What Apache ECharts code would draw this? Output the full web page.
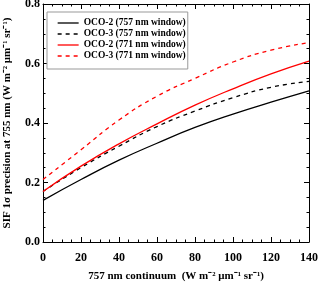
<!DOCTYPE html>
<html><head><meta charset="utf-8">
<script src="https://cdn.jsdelivr.net/npm/echarts@6/dist/echarts.min.js"></script>
<style>html,body{margin:0;padding:0;background:#fff}#c{width:320px;height:284px}</style>
</head><body><div id="c"></div>
<script>
var xs = [0, 20, 40, 60, 80, 100, 120, 140];
var oco2_757 = [0.14, 0.21, 0.275, 0.332, 0.385, 0.43, 0.47, 0.508];
var oco3_757 = [0.17, 0.25, 0.322, 0.388, 0.44, 0.485, 0.52, 0.54];
var oco2_771 = [0.17, 0.255, 0.33, 0.397, 0.46, 0.515, 0.565, 0.608];
var oco3_771 = [0.21, 0.31, 0.41, 0.49, 0.55, 0.605, 0.645, 0.67];
var names = ['OCO-2 (757 nm window)', 'OCO-3 (757 nm window)', 'OCO-2 (771 nm window)', 'OCO-3 (771 nm window)'];

var F = 'Liberation Serif';
function pts(v){ return xs.map(function(x,i){return [x, v[i]];}); }
function ser(name, v, color, type){
  return {name:name, type:'line', data:pts(v), smooth:true, symbol:'none',
    lineStyle:{color:color, width:1.3, type:type}, itemStyle:{color:color}};
}
var axisCommon = {
  axisLine:{show:true, onZero:false, lineStyle:{color:'#000', width:1}},
  axisTick:{show:true, inside:true, length:5, lineStyle:{color:'#000'}},
  minorTick:{show:true, splitNumber:4, length:2.5, lineStyle:{color:'#000'}},
  splitLine:{show:false}
};
var chart = echarts.init(document.getElementById('c'));
chart.setOption({
  animation:false,
  backgroundColor:'#fff',
  grid:{left:43, right:11, top:4, bottom:42, containLabel:false, outerBoundsMode:'none'},
  legend:{
    show:true, left:47, top:12, orient:'vertical', itemGap:1,
    itemWidth:21, itemHeight:9, width:132,
    backgroundColor:'#fff', borderColor:'#999', borderWidth:1, padding:[6,2,8,10],
    itemStyle:{color:'rgba(0,0,0,0)', borderWidth:0, opacity:0},
    lineStyle:{width:1.3},
    textStyle:{fontFamily:F, fontWeight:'bold', fontSize:9.5, color:'#000', padding:[0,0,0,0]},
    data:names
  },
  xAxis:[Object.assign({type:'value', min:0, max:140, interval:20,
    name:'757 nm continuum  (W m\u207B\u00B2 \u03BCm\u207B\u00B9 sr\u207B\u00B9)',
    nameLocation:'middle', nameGap:29,
    nameTextStyle:{fontFamily:F, fontWeight:'bold', fontSize:11, color:'#000'},
    axisLabel:{fontFamily:F, fontWeight:'bold', fontSize:12, color:'#000', margin:10}
  }, axisCommon),
  Object.assign({type:'value', min:0, max:140, interval:20, position:'top', axisLabel:{show:false}}, axisCommon)],
  yAxis:[Object.assign({type:'value', min:0, max:0.8, interval:0.2,
    name:'SIF 1\u03C3 precision at 755 nm (W m\u207B\u00B2 \u03BCm\u207B\u00B9 sr\u207B\u00B9)',
    nameLocation:'middle', nameGap:30,
    nameTextStyle:{fontFamily:F, fontWeight:'bold', fontSize:11, color:'#000'},
    axisLabel:{fontFamily:F, fontWeight:'bold', fontSize:12, color:'#000', margin:3,
      formatter:function(v){return v.toFixed(1);}}
  }, axisCommon),
  Object.assign({type:'value', min:0, max:0.8, interval:0.2, position:'right', axisLabel:{show:false}}, axisCommon)],
  series:[
    ser(names[0], oco2_757, '#000', 'solid'),
    ser(names[1], oco3_757, '#000', [4,4]),
    ser(names[2], oco2_771, '#ff0000', 'solid'),
    ser(names[3], oco3_771, '#ff0000', [4,4])
  ]
});
</script></body></html>
